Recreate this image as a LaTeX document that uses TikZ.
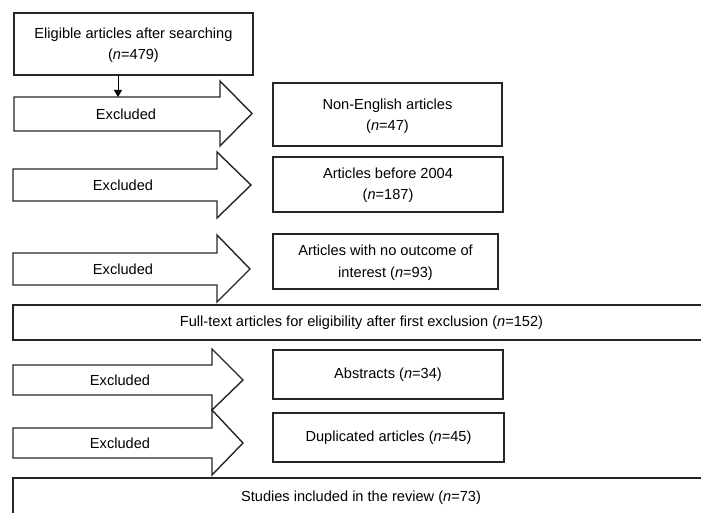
\documentclass[tikz,border=0pt]{standalone}
\usepackage{fontspec}
\setmainfont{Liberation Sans}
\usetikzlibrary{arrows.meta}
\begin{document}
\begin{tikzpicture}[x=1pt,y=-1pt,
  outline/.style={draw=black!85,line width=1.4pt,line join=miter},
  boxtxt/.style={font=\fontsize{14.6}{21.5}\selectfont,align=center,inner sep=0pt},
  fatarrow/.style={draw=black!85,line width=1.4pt,fill=white,line join=miter}]
\clip (0,0) rectangle (701,513);
\fill[white] (0,0) rectangle (701,513);
% top box
\draw[outline] (14,13) rectangle (253,75);
\node[boxtxt] (top) at (133.5,45) {Eligible articles after searching\\(\textit{n}=479)};
% fat arrows
\draw[fatarrow] (14,97) -- (220,97) -- (220,81) -- (252,113.5) -- (220,146) -- (220,131) -- (14,131) -- cycle;
\draw[fatarrow] (13,169) -- (217,169) -- (217,152) -- (251,185) -- (217,218) -- (217,201) -- (13,201) -- cycle;
\draw[fatarrow] (13,253) -- (217,253) -- (217,235) -- (250,269) -- (217,302) -- (217,285) -- (13,285) -- cycle;
\draw[fatarrow] (13,365) -- (212,365) -- (212,349) -- (243,380) -- (212,410) -- (212,395) -- (13,395) -- cycle;
\draw[fatarrow] (13,428) -- (212,428) -- (212,410) -- (243,443) -- (212,475) -- (212,458) -- (13,458) -- cycle;
\node[boxtxt] (ex1) at (126,114) {Excluded};
\node[boxtxt] (ex2) at (123,185) {Excluded};
\node[boxtxt] (ex3) at (123,269) {Excluded};
\node[boxtxt] (ex4) at (120,380) {Excluded};
\node[boxtxt] (ex5) at (120,443) {Excluded};
% down connector
\coordinate (topbot) at (118,75);
\coordinate (a1top) at (118,97);
\draw[line width=0.8pt,-{Triangle[length=7pt,width=8pt]}] (topbot) -- (a1top);
% side boxes
\draw[outline] (273,83) rectangle (502,146);
\node[boxtxt] (b1) at (387.5,116) {Non-English articles\\(\textit{n}=47)};
\draw[outline] (273,157) rectangle (503,212);
\node[boxtxt] (b2) at (388,185) {Articles before 2004\\(\textit{n}=187)};
\draw[outline] (273,234) rectangle (498,289);
\node[boxtxt] (b3) at (385.5,262.5) {Articles with no outcome of\\interest (\textit{n}=93)};
\draw[outline] (273,350) rectangle (503,399);
\node[boxtxt] (b4) at (388,375) {Abstracts (\textit{n}=34)};
\draw[outline] (273,413) rectangle (504,462);
\node[boxtxt] (b5) at (388.5,438) {Duplicated articles (\textit{n}=45)};
% wide boxes
\draw[outline] (13,305) rectangle (710,340);
\node[boxtxt] (full) at (361.5,323) {Full-text articles for eligibility after first exclusion (\textit{n}=152)};
\draw[outline] (13,478) rectangle (709,518);
\node[boxtxt] (stud) at (361,497.5) {Studies included in the review (\textit{n}=73)};
\end{tikzpicture}
\end{document}
